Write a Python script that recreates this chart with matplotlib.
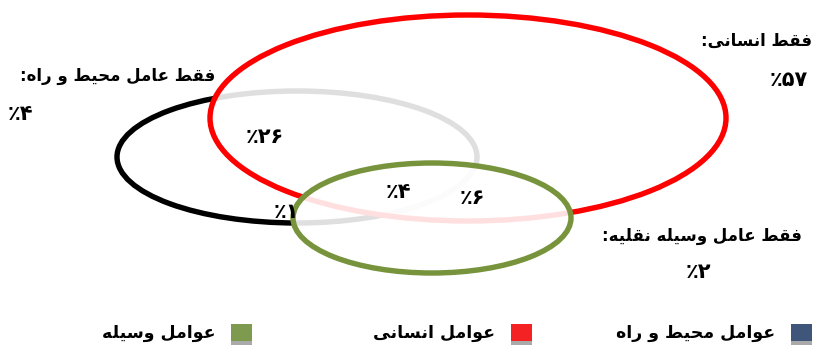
import unicodedata
import matplotlib.pyplot as plt
from matplotlib.patches import Ellipse, Rectangle

# Venn of crash causes (share of accidents, percent)
only_labels = ["فقط عامل محیط و راه:", "فقط انسانی:", "فقط عامل وسیله نقلیه:"]
only_values = [4, 57, 2]
# env & human, all three, human & vehicle, env & vehicle
overlap_values = [26, 4, 6, 1]
legend_labels = ["عوامل محیط و راه", "عوامل انسانی", "عوامل وسیله"]
legend_colors = ["#3f5579", "#f42222", "#7e9a4e"]

RIGHT_JOIN = set("اآأإدذرزژوؤة")
FA_DIGITS = str.maketrans("0123456789", "۰۱۲۳۴۵۶۷۸۹")


def is_letter(ch):
    return unicodedata.name(ch, "").startswith("ARABIC LETTER")


def shape(text):
    # contextual forms + reverse to visual order (no layout engine in mpl)
    out = []
    n = len(text)
    for i, ch in enumerate(text):
        if not is_letter(ch):
            out.append(ch)
            continue
        prev = i > 0 and is_letter(text[i - 1]) and text[i - 1] not in RIGHT_JOIN
        nxt = i < n - 1 and is_letter(text[i + 1]) and ch not in RIGHT_JOIN
        if prev and nxt:
            form = "MEDIAL"
        elif prev:
            form = "FINAL"
        elif nxt:
            form = "INITIAL"
        else:
            form = "ISOLATED"
        try:
            out.append(unicodedata.lookup(unicodedata.name(ch) + " " + form + " FORM"))
        except KeyError:
            out.append(ch)
    return "".join(out[::-1])


def pct(v):
    return "٪" + str(v).translate(FA_DIGITS)


plt.rcParams['font.family'] = ['DejaVu Sans']
fig = plt.figure(figsize=(8.22, 3.45), dpi=100)
ax = fig.add_axes([0, 0, 1, 1])
ax.set_xlim(0, 822)
ax.set_ylim(345, 0)
ax.axis('off')

lw = 3.9
ax.add_patch(Ellipse((297, 157), 360, 132, facecolor='none', edgecolor='black', lw=lw, zorder=1))
ax.add_patch(Ellipse((468, 118), 516, 206, facecolor=(1, 1, 1, 0.88), edgecolor='#ff0000', lw=lw, zorder=2))
ax.add_patch(Ellipse((432, 218), 278, 110, facecolor=(1, 1, 1, 0.88), edgecolor='#77933c', lw=lw, zorder=3))

tk = dict(fontsize=12, fontweight='bold', color='black', zorder=5)
nk = dict(fontsize=15, fontweight='bold', color='black', zorder=5)
# single-factor labels
ax.text(215, 76, shape(only_labels[0]), ha='right', va='center', **tk)
ax.text(8, 114, pct(only_values[0]), ha='left', va='center', **nk)
ax.text(812, 41, shape(only_labels[1]), ha='right', va='center', **tk)
ax.text(808, 80, pct(only_values[1]), ha='right', va='center', **nk)
ax.text(802, 236, shape(only_labels[2]), ha='right', va='center', **tk)
ax.text(698, 272, pct(only_values[2]), ha='center', va='center', **nk)

# overlaps
ax.text(265, 137, pct(overlap_values[0]), ha='center', va='center', **nk)
ax.text(398, 192, pct(overlap_values[1]), ha='center', va='center', **nk)
ax.text(472, 198, pct(overlap_values[2]), ha='center', va='center', **nk)
ax.text(286, 212, pct(overlap_values[3]), ha='center', va='center', **nk)

# legend, right-to-left: square then label
for i, (lab, col) in enumerate(zip(legend_labels, legend_colors)):
    right = 812 - 280 * i
    ax.add_patch(Rectangle((right - 21, 324), 21, 20, facecolor=col, edgecolor='none'))
    ax.add_patch(Rectangle((right - 21, 341), 21, 4, facecolor='#aaaaaa', edgecolor='none'))
    ax.text(right - 37, 333, shape(lab), ha='right', va='center', fontsize=12.5,
            fontweight='bold', color='black', zorder=5)

fig.savefig('out.png', dpi=100)
